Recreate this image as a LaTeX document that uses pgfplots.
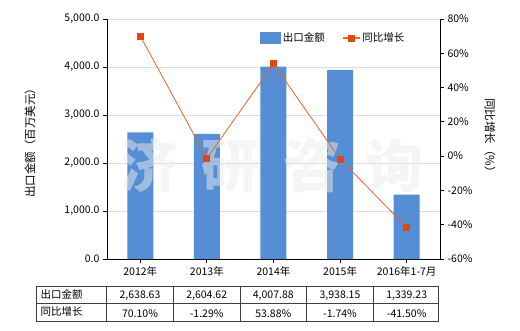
\documentclass[border=0pt]{standalone}
\usepackage{pgfplots}
\pgfplotsset{compat=1.18}
\usepackage{fontspec}
\setmainfont{Noto Sans CJK SC}
\definecolor{barblue}{RGB}{85,142,213}
\definecolor{lineorange}{RGB}{232,100,40}
\definecolor{markorange}{RGB}{224,72,16}
\definecolor{gridgray}{RGB}{222,222,222}
\definecolor{tabline}{RGB}{64,64,64}
\newcommand{\fs}{\fontsize{10.5}{12}\selectfont}
\begin{document}
\begin{tikzpicture}
\path[use as bounding box] (0pt,0pt) rectangle (520pt,-330pt);
\begin{axis}[
  at={(107pt,-259pt)}, anchor=south west, scale only axis,
  width=333pt, height=240pt,
  xmin=-0.5, xmax=4.5, ymin=0, ymax=5000,
  axis y line*=left, axis x line*=bottom,
  axis line style={black, line width=0.8pt, -},
  xtick={0,1,2,3,4},
  xticklabels={2012年,2013年,2014年,2015年,2016年1-7月},
  ytick={0,1000,2000,3000,4000,5000},
  yticklabel={\pgfmathprintnumber[fixed,fixed zerofill,precision=1,1000 sep={,}]{\tick}},
  /pgf/number format/assume math mode=true,
  ticklabel style={font=\fs},
  ymajorgrids, grid style={gridgray, line width=0.6pt},
  tick style={black, line width=0.8pt}, tick align=outside, major tick length=4pt,
  ybar, bar width=26pt,
]
\addplot[fill=barblue, draw=none] coordinates {(0,2638.63)(1,2604.62)(2,4007.88)(3,3938.15)(4,1339.23)};
\end{axis}
% watermark
\node[text=white!92!black, opacity=0.5, font=\fontsize{58}{60}\selectfont\bfseries] at (272pt,-165pt) {济\hspace{24pt}研\hspace{24pt}咨\hspace{24pt}询};
\begin{axis}[
  at={(107pt,-259pt)}, anchor=south west, scale only axis,
  width=333pt, height=240pt,
  xmin=-0.5, xmax=4.5, ymin=-60, ymax=80,
  axis y line*=right, axis x line=none,
  axis line style={black, line width=0.8pt, -},
  ytick={-60,-40,-20,0,20,40,60,80},
  yticklabel={\pgfmathprintnumber{\tick}\%},
  /pgf/number format/assume math mode=true,
  ticklabel style={font=\fs},
  tick style={black, line width=0.8pt}, tick align=outside, major tick length=4pt,
  legend style={draw=none, fill=none, font=\fs, at={(0.68,0.92)}, anchor=center,
    /tikz/every even column/.append style={column sep=15pt}},
  legend columns=2,
]
\addlegendimage{legend image code/.code={\fill[barblue] (0pt,-5.5pt) rectangle (20pt,5.5pt);}}
\addlegendentry{出口金额}
\addplot[lineorange, line width=0.8pt, mark=square*, mark size=3pt,
  mark options={solid, fill=markorange, draw=markorange},
  legend image code/.code={\draw[lineorange,line width=1.6pt] (0pt,0pt) -- (17pt,0pt); \fill[markorange] (5.5pt,-3pt) rectangle (11.5pt,3pt);}]
  coordinates {(0,70.10)(1,-1.29)(2,53.88)(3,-1.74)(4,-41.50)};
\addlegendentry{同比增长}
\end{axis}
% axis titles
\node[rotate=90, font=\fontsize{11.5}{13}\selectfont] at (30pt,-140pt) {出口金额（百万美元）};
\node[rotate=-90, font=\fontsize{11.5}{13}\selectfont] at (490pt,-138pt) {同比增长（\%）};
% data table
\draw[tabline, line width=0.8pt] (36.5pt,-286pt) rectangle (438pt,-321pt);
\draw[tabline, line width=0.8pt] (36.5pt,-303.5pt) -- (438pt,-303.5pt);
\foreach \xx in {106.7,173.3,240,306.7,373.3}{\draw[tabline, line width=0.8pt] (\xx pt,-286pt) -- (\xx pt,-321pt);}
\node[anchor=west, font=\fs] at (37pt,-294pt) {出口金额};
\node[anchor=west, font=\fs] at (37pt,-312pt) {同比增长};
\node[font=\fs] at (140pt,-296pt) {2,638.63};
\node[font=\fs] at (206.7pt,-296pt) {2,604.62};
\node[font=\fs] at (273.3pt,-296pt) {4,007.88};
\node[font=\fs] at (340pt,-296pt) {3,938.15};
\node[font=\fs] at (406.7pt,-296pt) {1,339.23};
\node[font=\fs] at (140pt,-314pt) {70.10\%};
\node[font=\fs] at (206.7pt,-314pt) {-1.29\%};
\node[font=\fs] at (273.3pt,-314pt) {53.88\%};
\node[font=\fs] at (340pt,-314pt) {-1.74\%};
\node[font=\fs] at (406.7pt,-314pt) {-41.50\%};
\end{tikzpicture}
\end{document}
